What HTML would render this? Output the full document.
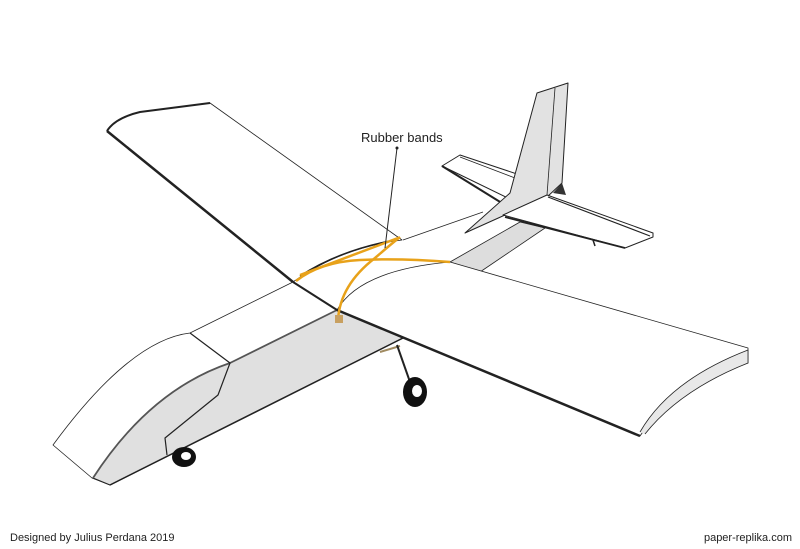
<!DOCTYPE html>
<html><head><meta charset="utf-8"><style>
html,body{margin:0;padding:0;background:#fff;}
svg{display:block;}
text{font-family:"Liberation Sans",Arial,sans-serif;fill:#222;}
</style></head><body>
<svg width="800" height="549" viewBox="0 0 800 549" xmlns="http://www.w3.org/2000/svg">
<g stroke="#222" stroke-linejoin="round" fill="none">
<!-- horizontal stab left -->
<polygon points="442,166 460,155 520,175 512,200" fill="#fff" stroke-width="1"/>
<line x1="442" y1="166" x2="505" y2="205" stroke-width="2"/>
<line x1="460" y1="157" x2="515" y2="178" stroke-width="0.8"/>
<!-- rear boom -->
<polygon points="450,262 480,272 545,228 520,222" fill="#ddd" stroke-width="0.8"/>
<line x1="403" y1="240" x2="483" y2="212" stroke-width="0.8"/>
<!-- fin -->
<polygon points="465,233 510,193 537,93 568,83 562,183 547,197 505,215" fill="#e2e2e2" stroke-width="1"/>
<line x1="555" y1="88" x2="547" y2="195" stroke-width="0.8"/>
<polygon points="553,193 562,183 566,195" fill="#333" stroke="none"/>
<!-- horizontal stab right -->
<polygon points="503,215 547,195 653,233 653,237 625,248" fill="#fff" stroke-width="1"/>
<line x1="548" y1="197" x2="650" y2="236" stroke-width="1.2"/>
<line x1="505" y1="217" x2="625" y2="248" stroke-width="1.8"/>
<line x1="593" y1="240" x2="595" y2="246" stroke-width="1.5"/>
<!-- left wing -->
<path d="M107,131 Q115,118 140,112 L210,103 L402,240 Q340,248 293,282 Z" fill="#fff" stroke-width="0.8"/>
<path d="M107,131 L293,282" stroke-width="2.5"/>
<path d="M107,131 Q115,118 140,112 L210,103" stroke-width="2"/>
<path d="M300,276 Q340,250 395,240" stroke-width="1.5"/>
<!-- fuselage top / nose -->
<path d="M293,282 L190,333 Q130,340 53,445 L92,478 L110,485 L403,338 L337,310 Z" fill="#fff" stroke-width="0.8"/>
<path d="M337,310 L230,363 Q150,390 93,478 L110,485 L403,338 Z" fill="#e0e0e0" stroke-width="1"/>
<path d="M337,310 L230,363 Q150,390 93,478" stroke-width="1.8" stroke="#555"/>
<line x1="110" y1="485" x2="403" y2="338" stroke-width="1.5"/>
<polyline points="190,333 230,363 218,395 165,438 167,455" stroke-width="1.2"/>
<!-- right wing -->
<path d="M337,310 Q360,270 450,262 L748,348 L748,363 Q670,390 640,436 Z" fill="#fff" stroke-width="0.8"/>
<path d="M645,434 Q680,390 748,363 L748,350 Q670,380 640,432" fill="#e8e8e8" stroke-width="0.8"/>
<line x1="337" y1="310" x2="640" y2="436" stroke-width="2.5"/>
<line x1="293" y1="282" x2="337" y2="310" stroke-width="2"/>
<!-- gear -->
<line x1="380" y1="352" x2="400" y2="346" stroke="#a08a60" stroke-width="2"/>
<line x1="397" y1="345" x2="410" y2="382" stroke-width="2"/>
<ellipse cx="415" cy="392" rx="12" ry="15" fill="#111" stroke="none"/>
<ellipse cx="417" cy="391" rx="5" ry="6" fill="#fff" stroke="none"/>
<ellipse cx="184" cy="457" rx="12" ry="10" fill="#111" stroke="none"/>
<ellipse cx="186" cy="456" rx="5" ry="4" fill="#fff" stroke="none"/>
</g>
<!-- rubber bands -->
<g stroke="#e8a21a" stroke-width="2.5" fill="none">
<path d="M296,281 Q320,262 360,260 Q400,258 450,262"/>
<path d="M300,275 Q340,260 398,238"/>
<path d="M338,320 Q340,285 375,258 Q390,245 400,237"/>
</g>
<rect x="335" y="315" width="8" height="8" fill="#c8a060"/>
<line x1="397" y1="148" x2="385" y2="248" stroke="#222" stroke-width="1"/>
<circle cx="397" cy="148" r="1.5" fill="#222"/>
<text x="361" y="142" font-size="13">Rubber bands</text>
<text x="10" y="541" font-size="11">Designed by Julius Perdana 2019</text>
<text x="792" y="541" font-size="11" text-anchor="end">paper-replika.com</text>
</svg>
</body></html>
